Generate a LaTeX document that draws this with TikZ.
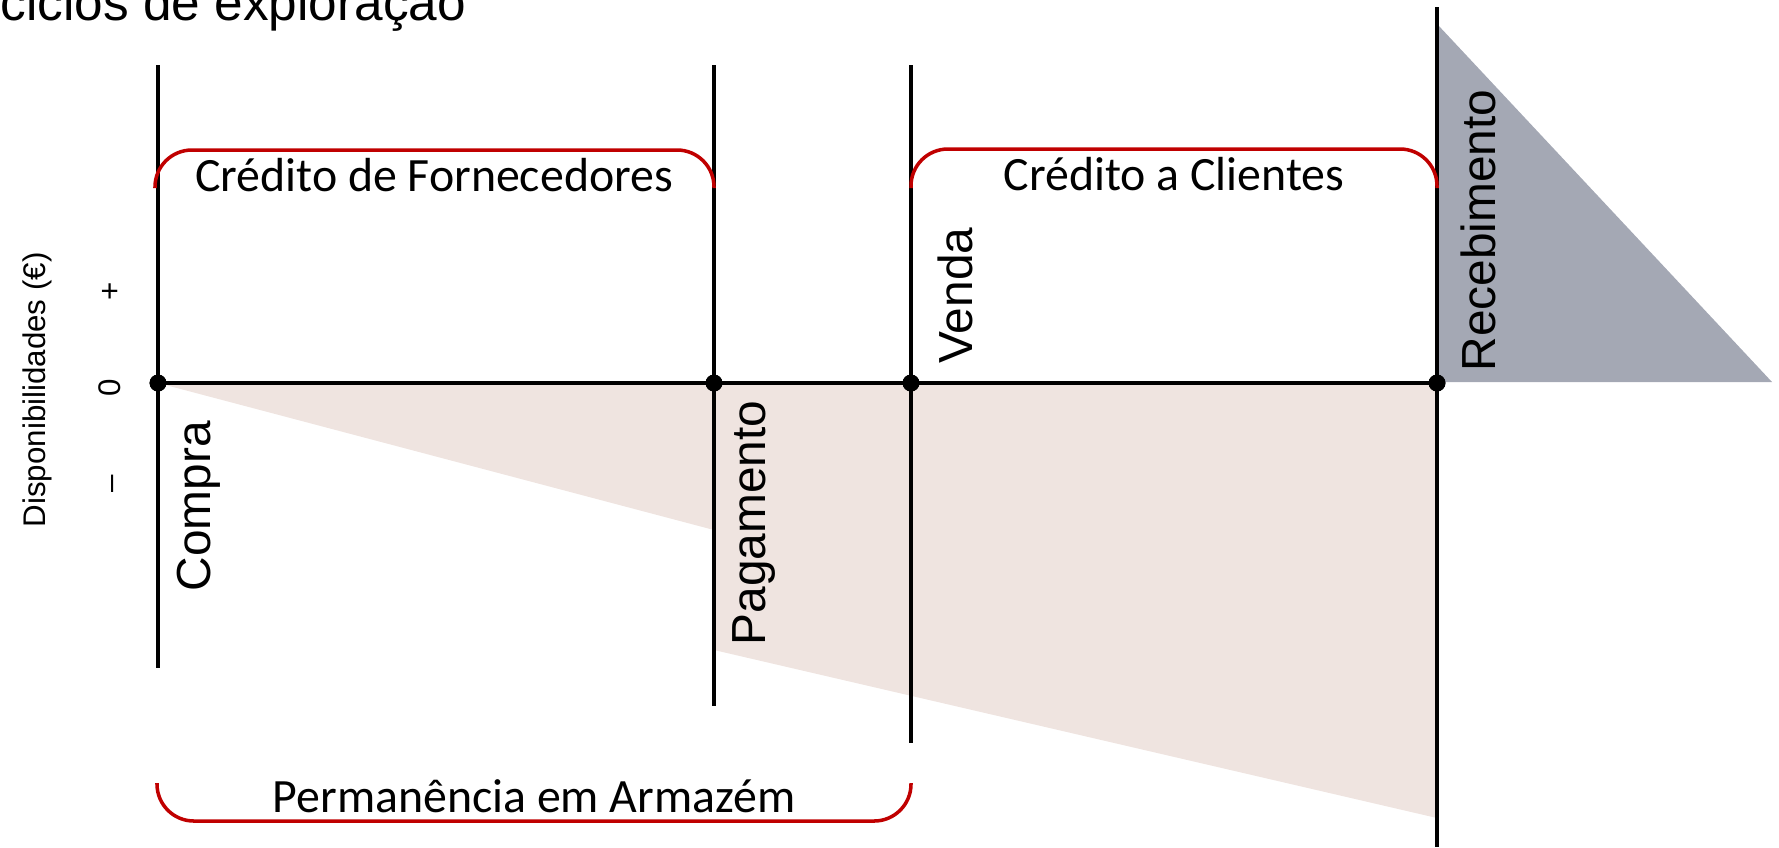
\documentclass[tikz,border=0pt]{standalone}
\usepackage{fontspec}
\setmainfont{Liberation Sans}
\newfontfamily\calib{Carlito}
\definecolor{bracketred}{RGB}{192,0,0}
\definecolor{beigefill}{RGB}{239,228,224}
\definecolor{slatefill}{RGB}{164,168,180}
\begin{document}
\begin{tikzpicture}[x=0.01cm,y=-0.01cm,
  vline/.style={line width=1pt},
  dot/.style={circle,fill=black,inner sep=0pt,minimum size=4.8pt},
  brk/.style={draw=bracketred,line width=1pt,rounded corners=10.5pt},
  brklabel/.style={font=\calib\fontsize{13.6}{16}\selectfont,anchor=base,inner sep=0pt},
  evlabel/.style={font=\fontsize{13.6}{16}\selectfont,rotate=90,anchor=base west,inner sep=0pt},
  axlabel/.style={font=\fontsize{8.9}{10}\selectfont,rotate=90,anchor=base,inner sep=0pt}]
\useasboundingbox (0,0) rectangle (1779,847);

% shaded areas
\fill[beigefill] (158,383) -- (714,383) -- (714,530) -- cycle;
\fill[beigefill] (714,383) -- (1437,383) -- (1437,818) -- (714,650) -- cycle;
\fill[slatefill] (1438,25) -- (1772,382) -- (1438,382) -- cycle;

% event points on the zero line
\node[dot] (compra) at (158,383) {};
\node[dot] (pagamento) at (714,383) {};
\node[dot] (venda) at (911,383) {};
\node[dot] (receb) at (1437,383) {};

\coordinate (compraT) at (158,65);   \coordinate (compraB) at (158,668);
\coordinate (pagT) at (714,65);      \coordinate (pagB) at (714,706);
\coordinate (vendaT) at (911,65);    \coordinate (vendaB) at (911,743);
\coordinate (recebT) at (1437,7);    \coordinate (recebB) at (1437,847);

\draw[vline] (compraT) -- (compraB);
\draw[vline] (pagT) -- (pagB);
\draw[vline] (vendaT) -- (vendaB);
\draw[vline] (recebT) -- (recebB);
\draw[vline] (compra.center) -- (receb.center);

% redraw dots on top
\node[dot] at (compra) {};
\node[dot] at (pagamento) {};
\node[dot] at (venda) {};
\node[dot] at (receb) {};

% brackets
\draw[brk] (155,188) -- (155,150) -- (714,150) -- (714,188);
\draw[brk] (911,188) -- (911,149) -- (1437,149) -- (1437,188);
\draw[brk] (157,783) -- (157,821) -- (911,821) -- (911,783);

\node[brklabel] (cf) at (434,191) {Crédito de Fornecedores};
\node[brklabel] (cc) at (1174,190) {Crédito a Clientes};
\node[brklabel] (pa) at (534,812) {Permanência em Armazém};

% event labels
\node[evlabel] (lcompra) at (210,592) {Compra};
\node[evlabel] (lpag) at (765,646) {Pagamento};
\node[evlabel] (lvenda) at (972,364) {Venda};
\node[evlabel] (lreceb) at (1495,372) {Recebimento};

% axis labels
\node[evlabel,font=\fontsize{8.9}{10}\selectfont] (disp) at (45,528) {Disponibilidades (€)};
\node[axlabel] (plus) at (120,291) {+};
\node[axlabel] (zero) at (120,388) {0};
\node[axlabel] (minus) at (120,484) {–};

% title (cropped at the top, as in the reference)
\node[anchor=base west,inner sep=0pt,font=\fontsize{14.6}{17}\selectfont] (title) at (0,20) {ciclos de exploração};
\end{tikzpicture}
\end{document}
